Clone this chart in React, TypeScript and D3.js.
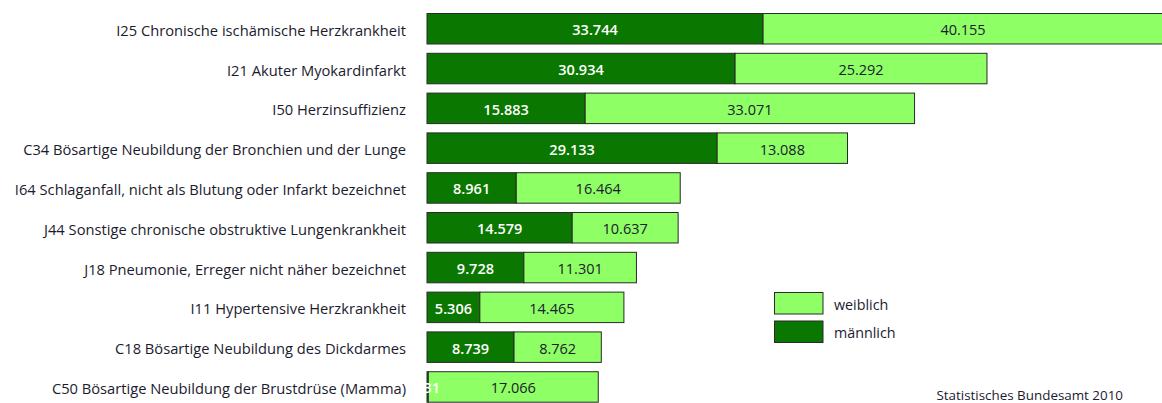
import React from "react";
import * as d3 from "d3";

const categories = [
  "I25 Chronische ischämische Herzkrankheit",
  "I21 Akuter Myokardinfarkt",
  "I50 Herzinsuffizienz",
  "C34 Bösartige Neubildung der Bronchien und der Lunge",
  "I64 Schlaganfall, nicht als Blutung oder Infarkt bezeichnet",
  "J44 Sonstige chronische obstruktive Lungenkrankheit",
  "J18 Pneumonie, Erreger nicht näher bezeichnet",
  "I11 Hypertensive Herzkrankheit",
  "C18 Bösartige Neubildung des Dickdarmes",
  "C50 Bösartige Neubildung der Brustdrüse (Mamma)",
];
const maleValues = [33744, 30934, 15883, 29133, 8961, 14579, 9728, 5306, 8739, 131];
const femaleValues = [40155, 25292, 33071, 13088, 16464, 10637, 11301, 14465, 8762, 17066];
const seriesNames = ["weiblich", "männlich"];
const sourceText = "Statistisches Bundesamt 2010";

const W = 1162;
const H = 403;
const DARK = "#0a7800";
const LIGHT = "#8fff66";
const STROKE = "#2a2a2a";
const TEXT = "#1b1b2e";
const FONT = "'Open Sans', 'Noto Sans', sans-serif";

const fmt = (v: number) => d3.format(",")(v).replace(/,/g, ".");

export default function App() {
  const x = d3.scaleLinear().domain([0, 74000]).range([427, 1164]);
  const y = d3
    .scaleBand<string>()
    .domain(categories)
    .range([13.5, 402.2])
    .paddingInner(0.234)
    .paddingOuter(0);
  const bh = y.bandwidth();

  return (
    <svg
      width={W}
      height={H}
      style={{ position: "absolute", left: 0, top: 0, background: "#fff" }}
      fontFamily={FONT}
    >
      <defs>
        <clipPath id="plot">
          <rect x={426} y={0} width={W - 426} height={H} />
        </clipPath>
      </defs>
      {categories.map((c, i) => {
        const yy = y(c)!;
        const m = maleValues[i];
        const f = femaleValues[i];
        const x0 = x(0);
        const x1 = x(m);
        const x2 = x(m + f);
        return (
          <g key={c}>
            <text
              x={406}
              y={yy + bh / 2 + 1}
              textAnchor="end"
              dominantBaseline="central"
              fontSize={14.7}
              fill={TEXT}
            >
              {c}
            </text>
            <g clipPath="url(#plot)">
              <rect x={x0} y={yy} width={x1 - x0} height={bh} fill={DARK} stroke={STROKE} strokeWidth={1} />
              <rect x={x1} y={yy} width={x2 - x1} height={bh} fill={LIGHT} stroke={STROKE} strokeWidth={1} />
              <text
                x={(x0 + x1) / 2}
                y={yy + bh / 2 + 1}
                textAnchor="middle"
                dominantBaseline="central"
                fontSize={14.5}
                fontWeight={600}
                fill="#ffffff"
              >
                {fmt(m)}
              </text>
              <text
                x={(x1 + x2) / 2}
                y={yy + bh / 2 + 1}
                textAnchor="middle"
                dominantBaseline="central"
                fontSize={14.5}
                fill={TEXT}
              >
                {fmt(f)}
              </text>
            </g>
          </g>
        );
      })}
      {seriesNames.map((s, i) => (
        <g key={s}>
          <rect
            x={774.5}
            y={292.5 + i * 28.5}
            width={48.5}
            height={21.5}
            fill={i === 0 ? LIGHT : DARK}
            stroke={STROKE}
            strokeWidth={1}
          />
          <text x={834} y={304 + i * 28.5} dominantBaseline="central" fontSize={14.3} fill={TEXT}>
            {s}
          </text>
        </g>
      ))}
      <text x={1123} y={395} textAnchor="end" dominantBaseline="central" fontSize={13.4} fill={TEXT}>
        {sourceText}
      </text>
    </svg>
  );
}
